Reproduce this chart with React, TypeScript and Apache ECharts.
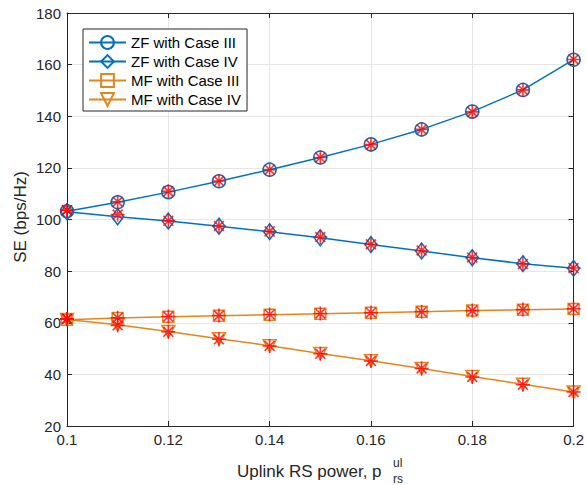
import { useEffect, useRef } from 'react';
import * as echarts from 'echarts';

// x values: uplink RS power
const xValues = [0.1, 0.11, 0.12, 0.13, 0.14, 0.15, 0.16, 0.17, 0.18, 0.19, 0.2];

// analytical curves (lines + markers)
const zfCase3 = [103.2, 106.7, 110.6, 114.8, 119.3, 124.0, 129.1, 134.9, 141.8, 150.2, 161.9];
const zfCase4 = [103.0, 101.1, 99.4, 97.4, 95.3, 92.9, 90.3, 87.8, 85.2, 82.9, 81.1];
const mfCase3 = [61.2, 61.8, 62.3, 62.7, 63.1, 63.5, 63.9, 64.3, 64.7, 65.0, 65.3];
const mfCase4 = [61.3, 59.2, 56.6, 53.8, 51.1, 48.1, 45.3, 42.3, 39.2, 36.2, 33.2];

// simulation points (red asterisks)
const simZf3 = [103.6, 106.9, 110.9, 114.9, 119.3, 124.0, 129.0, 134.9, 141.7, 150.2, 162.0];
const simZf4 = [103.6, 101.9, 99.5, 97.5, 95.4, 93.2, 90.4, 88.0, 85.3, 82.8, 81.2];
const simMf3 = [61.5, 61.9, 62.4, 62.8, 63.2, 63.6, 63.9, 64.3, 64.7, 65.1, 65.4];
const simMf4 = [61.5, 59.0, 56.5, 53.6, 51.0, 48.0, 45.2, 42.3, 39.0, 36.0, 33.2];

const seriesNames = ['ZF with Case III', 'ZF with Case IV', 'MF with Case III', 'MF with Case IV'];

// axis settings
const xMin = 0.1;
const xMax = 0.2;
const xStep = 0.02;
const yMin = 20;
const yMax = 180;
const yStep = 20;

const FONT = "'Liberation Sans', Arial, Helvetica, sans-serif";

export default function App() {
  const ref = useRef<HTMLDivElement>(null);

  useEffect(() => {
    if (!ref.current) return;
    const chart = echarts.init(ref.current, null, { renderer: 'svg' });

    const BLUE = '#0072BD';
    const ORANGE = '#E3861B';
    const RED = '#FF0000';
    const AXIS = '#262626';
    const GRID = '#E6E6E6';
    const ASTERISK = 'path://M5,0L5,10M0,5L10,5M1.46,1.46L8.54,8.54M1.46,8.54L8.54,1.46';
    const TRI_DOWN = 'path://M0,0L10,0L5,8.66Z';

    const pair = (ys: number[]) => xValues.map((x, i) => [x, ys[i]]);

    const mainSeries = (name: string, ys: number[], color: string, symbol: string, size: any) => ({
      type: 'line',
      name,
      data: pair(ys),
      symbol,
      symbolSize: size,
      clip: false,
      z: 3,
      lineStyle: { color, width: 1.5 },
      itemStyle: { color: 'rgba(255,255,255,0)', borderColor: color, borderWidth: 1.5 },
      emphasis: { disabled: true },
    });

    const simSeries = (ys: number[]) => ({
      type: 'scatter',
      data: pair(ys),
      symbol: ASTERISK,
      symbolSize: 14,
      clip: false,
      z: 4,
      itemStyle: { color: 'none', borderColor: RED, borderWidth: 1.6 },
      emphasis: { disabled: true },
    });

    const tickFmt = (v: number) => String(Math.round(v * 100) / 100);

    const boxAxisCommon = {
      axisLine: { show: true, onZero: false, lineStyle: { color: AXIS, width: 1 } },
      axisTick: { show: true, inside: true, length: 5, lineStyle: { color: AXIS, width: 1 } },
    };

    chart.setOption({
      animation: false,
      grid: { left: 67, right: 13, top: 13, bottom: 59, containLabel: false },
      xAxis: [
        {
          type: 'value',
          min: xMin,
          max: xMax,
          interval: xStep,
          position: 'bottom',
          ...boxAxisCommon,
          axisLabel: { fontSize: 15, color: AXIS, margin: 6, fontFamily: FONT, formatter: tickFmt },
          splitLine: { show: true, lineStyle: { color: GRID, width: 1 } },
        },
        {
          type: 'value',
          min: xMin,
          max: xMax,
          interval: xStep,
          position: 'top',
          ...boxAxisCommon,
          axisLabel: { show: false },
          splitLine: { show: false },
        },
      ],
      yAxis: [
        {
          type: 'value',
          min: yMin,
          max: yMax,
          interval: yStep,
          position: 'left',
          ...boxAxisCommon,
          axisLabel: { fontSize: 15, color: AXIS, margin: 6, fontFamily: FONT },
          splitLine: { show: true, lineStyle: { color: GRID, width: 1 } },
        },
        {
          type: 'value',
          min: yMin,
          max: yMax,
          interval: yStep,
          position: 'right',
          ...boxAxisCommon,
          axisLabel: { show: false },
          splitLine: { show: false },
        },
      ],
      legend: {
        data: seriesNames,
        orient: 'vertical',
        left: 83,
        top: 29,
        padding: [6, 6, 4, 5],
        itemWidth: 37,
        itemHeight: 16,
        itemGap: 4,
        backgroundColor: '#fff',
        borderColor: AXIS,
        borderWidth: 1,
        borderRadius: 0,
        z: 10,
        selectedMode: false,
        textStyle: { fontSize: 15, color: '#000', fontFamily: FONT },
      },
      graphic: [
        {
          type: 'text',
          x: 20,
          y: 217,
          rotation: Math.PI / 2,
          style: { text: 'SE (bps/Hz)', fontSize: 17, fontFamily: FONT, fill: AXIS, align: 'center', verticalAlign: 'middle' },
        },
        {
          type: 'text',
          x: 237,
          y: 471,
          style: { text: 'Uplink RS power, p', fontSize: 17, fontFamily: FONT, fill: AXIS, align: 'left', verticalAlign: 'middle' },
        },
        {
          type: 'text',
          x: 393,
          y: 463,
          style: { text: 'ul', fontSize: 12, fontFamily: FONT, fill: AXIS, align: 'left', verticalAlign: 'middle' },
        },
        {
          type: 'text',
          x: 393,
          y: 479,
          style: { text: 'rs', fontSize: 12, fontFamily: FONT, fill: AXIS, align: 'left', verticalAlign: 'middle' },
        },
      ],
      series: [
        mainSeries(seriesNames[0], zfCase3, BLUE, 'circle', 13),
        mainSeries(seriesNames[1], zfCase4, BLUE, 'diamond', [12, 16]),
        mainSeries(seriesNames[2], mfCase3, ORANGE, 'rect', 11),
        mainSeries(seriesNames[3], mfCase4, ORANGE, TRI_DOWN, [13, 12]),
        simSeries(simZf3),
        simSeries(simZf4),
        simSeries(simMf3),
        simSeries(simMf4),
      ],
    });

    return () => {
      chart.dispose();
    };
  }, []);

  return <div ref={ref} style={{ position: 'absolute', left: 0, top: 0, width: 587, height: 485 }} />;
}
